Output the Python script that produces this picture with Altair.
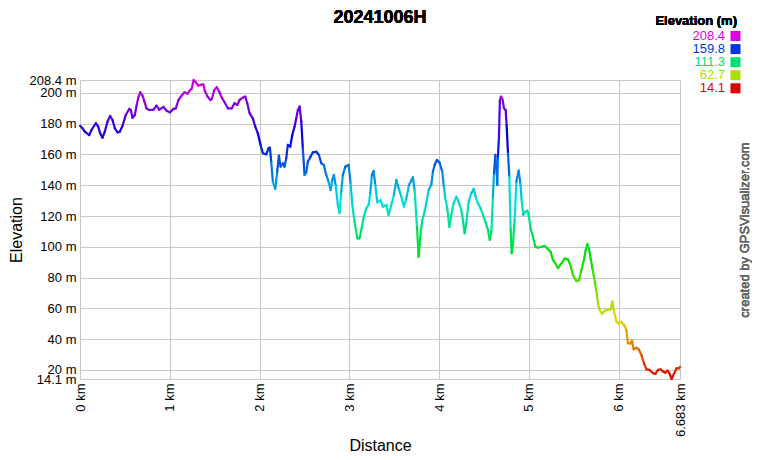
import altair as alt
import pandas as pd

distance_km = [
    0.0, 0.028, 0.053, 0.103, 0.128, 0.176, 0.203, 0.225, 0.251, 0.276, 0.306, 0.336, 0.362, 0.388,
    0.418, 0.443, 0.474, 0.510, 0.548, 0.566, 0.585, 0.611, 0.633, 0.652, 0.671, 0.696, 0.715, 0.741,
    0.771, 0.819, 0.852, 0.882, 0.930, 0.967, 1.001, 1.042, 1.067, 1.097, 1.131, 1.161, 1.198, 1.228,
    1.246, 1.265, 1.290, 1.317, 1.346, 1.373, 1.391, 1.421, 1.451, 1.469, 1.495, 1.524, 1.551, 1.580,
    1.607, 1.647, 1.691, 1.721, 1.752, 1.777, 1.814, 1.841, 1.863, 1.889, 1.925, 1.952, 1.981, 2.011,
    2.037, 2.075, 2.100, 2.115, 2.130, 2.148, 2.175, 2.197, 2.215, 2.234, 2.260, 2.279, 2.297, 2.315,
    2.342, 2.364, 2.390, 2.409, 2.427, 2.446, 2.465, 2.482, 2.501, 2.520, 2.538, 2.568, 2.594, 2.632,
    2.661, 2.687, 2.716, 2.743, 2.769, 2.791, 2.810, 2.828, 2.847, 2.872, 2.891, 2.910, 2.928, 2.955,
    2.992, 3.014, 3.033, 3.058, 3.089, 3.114, 3.140, 3.162, 3.189, 3.215, 3.233, 3.251, 3.270, 3.289,
    3.311, 3.348, 3.374, 3.412, 3.437, 3.467, 3.496, 3.523, 3.549, 3.579, 3.608, 3.635, 3.664, 3.690,
    3.708, 3.727, 3.753, 3.772, 3.794, 3.813, 3.838, 3.857, 3.883, 3.913, 3.931, 3.950, 3.975, 4.005,
    4.035, 4.053, 4.069, 4.091, 4.114, 4.136, 4.162, 4.192, 4.217, 4.247, 4.265, 4.284, 4.303, 4.329,
    4.359, 4.385, 4.407, 4.432, 4.462, 4.488, 4.515, 4.544, 4.563, 4.582, 4.599, 4.611, 4.626, 4.641,
    4.648, 4.655, 4.666, 4.677, 4.689, 4.708, 4.722, 4.741, 4.752, 4.767, 4.782, 4.797, 4.808, 4.822,
    4.841, 4.860, 4.886, 4.905, 4.919, 4.938, 4.961, 4.983, 4.997, 5.019, 5.045, 5.072, 5.100, 5.139,
    5.175, 5.205, 5.242, 5.268, 5.295, 5.324, 5.362, 5.398, 5.435, 5.462, 5.491, 5.529, 5.558, 5.584,
    5.613, 5.632, 5.651, 5.669, 5.688, 5.707, 5.725, 5.740, 5.755, 5.769, 5.788, 5.814, 5.844, 5.881,
    5.911, 5.930, 5.948, 5.975, 6.003, 6.030, 6.059, 6.086, 6.103, 6.134, 6.148, 6.167, 6.197, 6.223,
    6.253, 6.282, 6.309, 6.345, 6.382, 6.409, 6.438, 6.468, 6.494, 6.520, 6.545, 6.568, 6.590, 6.615,
    6.643, 6.669, 6.683,
]

elevation_m = [
    178.7, 177.0, 174.8, 172.6, 175.9, 180.3, 178.1, 173.7, 170.9, 174.8, 181.3, 185.0, 182.4, 177.0,
    174.4, 174.8, 178.7, 185.7, 189.6, 188.9, 183.9, 185.7, 192.6, 197.6, 200.4, 198.2, 194.8, 190.0,
    188.9, 189.1, 191.7, 189.1, 190.9, 188.3, 187.4, 189.6, 190.0, 195.4, 198.2, 200.4, 199.5, 201.9,
    203.0, 208.4, 206.9, 204.7, 205.2, 205.6, 201.3, 197.6, 195.4, 196.1, 201.9, 203.7, 200.8, 196.9,
    194.3, 190.0, 190.0, 193.3, 192.2, 195.4, 196.9, 197.6, 193.3, 186.8, 183.5, 178.1, 173.7, 166.2,
    160.8, 160.1, 164.0, 164.4, 155.3, 142.3, 137.6, 148.8, 159.2, 152.1, 154.3, 152.1, 157.5, 166.2,
    165.1, 172.6, 178.1, 183.5, 188.9, 191.1, 181.3, 164.0, 146.7, 148.4, 155.3, 158.6, 161.4, 161.8,
    159.7, 154.3, 153.2, 146.7, 142.3, 136.9, 143.5, 146.7, 140.2, 127.2, 121.8, 135.9, 146.7, 152.1,
    153.2, 141.3, 127.2, 116.4, 105.5, 105.5, 113.0, 119.6, 125.0, 127.2, 134.8, 146.7, 149.3, 140.2,
    128.9, 130.4, 126.1, 127.2, 120.7, 127.2, 133.7, 143.5, 138.0, 132.6, 126.1, 131.5, 140.2, 143.0,
    145.2, 136.9, 113.0, 93.5, 108.8, 117.4, 122.8, 128.3, 136.9, 140.2, 148.8, 153.2, 156.4, 154.7,
    148.8, 139.1, 131.5, 125.0, 113.0, 120.7, 128.3, 132.6, 129.4, 123.9, 117.4, 108.8, 115.3, 129.4,
    134.8, 137.6, 132.6, 128.3, 125.0, 120.7, 116.4, 111.0, 104.5, 109.9, 132.6, 147.8, 159.7, 147.8,
    140.2, 158.6, 170.5, 195.4, 197.6, 195.4, 190.0, 188.9, 179.1, 160.8, 145.6, 111.0, 95.9, 101.3,
    117.4, 142.3, 149.5, 141.3, 130.4, 120.7, 122.8, 123.5, 120.7, 112.0, 106.6, 100.0, 99.4, 100.0,
    100.6, 98.9, 96.7, 91.4, 89.2, 86.1, 89.2, 92.4, 91.8, 88.1, 81.6, 77.7, 78.3, 84.8,
    91.4, 97.8, 101.8, 98.9, 92.4, 86.1, 80.6, 75.2, 69.8, 63.3, 59.0, 56.3, 58.5, 59.0,
    59.4, 64.4, 57.9, 51.4, 49.9, 51.4, 49.2, 45.9, 37.3, 37.3, 39.0, 33.4, 34.4, 33.4,
    29.7, 24.3, 20.4, 20.0, 17.8, 17.4, 20.0, 20.4, 18.9, 18.2, 19.5, 17.4, 14.1, 17.4,
    21.0, 21.0, 22.0,
]

chart_title = "20241006H"
legend_title = "Elevation (m)"
legend_values = [208.4, 159.8, 111.3, 62.7, 14.1]
color_stops = [14.1, 62.7, 111.3, 159.8, 208.4]
color_range = ["#e00000", "#a8e000", "#00e070", "#0038e0", "#e000e0"]
y_ticks = [14.1, 20, 40, 60, 80, 100, 120, 140, 160, 180, 200, 208.4]
x_ticks = [0, 1, 2, 3, 4, 5, 6, 6.683]
credit = "created by GPSVisualizer.com"

W, H = 600, 299
FONT = "Arial, Liberation Sans, sans-serif"

seg = pd.DataFrame({
    "d": distance_km[:-1],
    "e": elevation_m[:-1],
    "d2": distance_km[1:],
    "e2": elevation_m[1:],
})
seg["mid"] = (seg["e"] + seg["e2"]) / 2

leg = pd.DataFrame({"elev": legend_values, "row": list(range(len(legend_values)))})
leg["label"] = leg["elev"].map(lambda v: f"{v:.1f}")

color_scale = alt.Scale(domain=color_stops, range=color_range, interpolate="hsl")

x_enc = alt.X(
    "d:Q",
    scale=alt.Scale(domain=[0, 6.683], nice=False, zero=False),
    axis=alt.Axis(
        values=x_ticks, labelExpr="datum.value + ' km'", labelAngle=270,
        title="Distance", grid=True, ticks=False, domain=False,
        labelFlush=False, labelOverlap=False, labelPadding=4,
        titleX=W / 2, titleY=71, titleBaseline="alphabetic", titleAlign="center",
    ),
)
y_enc = alt.Y(
    "e:Q",
    scale=alt.Scale(domain=[14.1, 208.4], nice=False, zero=False),
    axis=alt.Axis(
        values=y_ticks, labelExpr="datum.value + ' m'",
        title="Elevation", grid=True, ticks=False, domain=False,
        labelFlush=False, labelOverlap=False, labelPadding=4,
        titleX=-59, titleY=H / 2, titleAngle=270, titleBaseline="alphabetic", titleAlign="center",
    ),
)

profile = alt.Chart(seg).mark_rule(strokeWidth=2.2, strokeCap="round").encode(
    x=x_enc, y=y_enc, x2="d2:Q", y2="e2:Q",
    color=alt.Color("mid:Q", scale=color_scale, legend=None),
)

leg_y = alt.Y("row:Q", scale=alt.Scale(domain=[0, 4], range=[-44, 8.3]), axis=None)

leg_text = alt.Chart(leg).mark_text(align="right", baseline="middle", fontSize=13, font=FONT).encode(
    x=alt.value(645), y=leg_y, text="label:N",
    color=alt.Color("elev:Q", scale=color_scale, legend=None),
)
leg_sq = alt.Chart(leg).mark_square(size=100, opacity=1).encode(
    x=alt.value(655.5), y=leg_y,
    color=alt.Color("elev:Q", scale=color_scale, legend=None),
)
leg_head = alt.Chart(leg).mark_text(
    align="right", baseline="middle", fontSize=13, fontWeight="bold", font=FONT, color="#000"
).encode(x=alt.value(657), y=alt.value(-59), text=alt.value(legend_title))

title_mark = alt.Chart(leg).mark_text(
    align="center", baseline="alphabetic", fontSize=18, fontWeight="bold", font=FONT, color="#000"
).encode(x=alt.value(W / 2), y=alt.value(-57.5), text=alt.value(chart_title))

credit_mark = alt.Chart(leg).mark_text(
    align="center", baseline="middle", angle=270, fontSize=13, font=FONT, color="#666"
).encode(x=alt.value(665), y=alt.value(150), text=alt.value(credit))

chart = alt.layer(profile, leg_text, leg_sq, leg_head, title_mark, credit_mark).resolve_scale(
    y="independent"
).properties(
    width=W, height=H,
    background="white",
    autosize=alt.AutoSizeParams(type="none"),
    padding={"left": 72, "top": 72, "right": 72, "bottom": 73},
).configure_view(stroke=None).configure_axis(
    gridColor="#c8c8c8", gridWidth=1, labelFont=FONT, titleFont=FONT,
    labelFontSize=13, titleFontSize=16, titleFontWeight="normal",
    labelColor="#000", titleColor="#000",
)

chart.save("out.html", embed_options={"renderer": "svg", "actions": False})
